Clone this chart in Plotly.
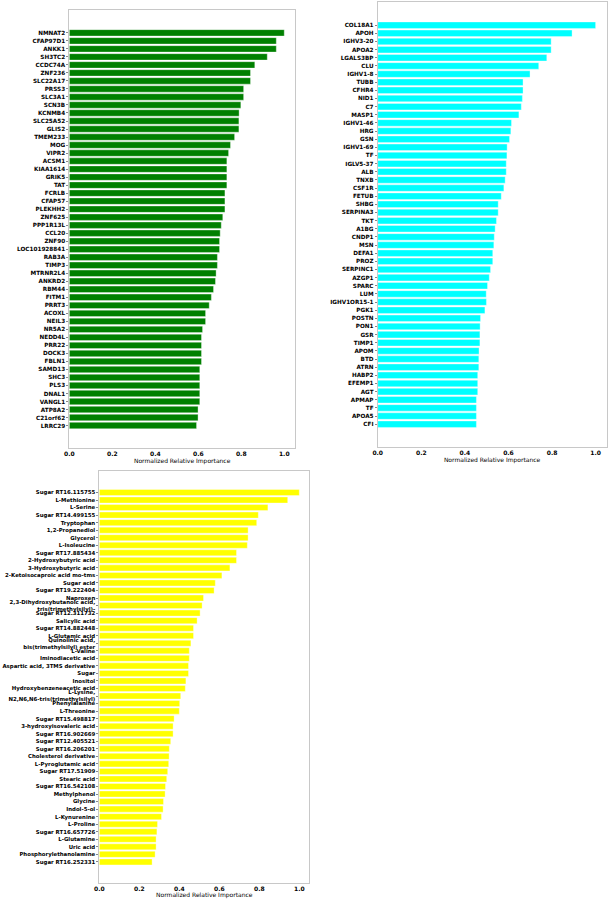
import plotly.graph_objects as go

genes = ["NMNAT2", "CFAP97D1", "ANKK1", "SH3TC2", "CCDC74A", "ZNF236", "SLC22A17", "PRSS3", "SLC3A1", "SCN3B",
         "KCNMB4", "SLC25A52", "GLIS2", "TMEM233", "MOG", "VIPR2", "ACSM1", "KIAA1614", "GRIK5", "TAT",
         "FCRLB", "CFAP57", "PLEKHH2", "ZNF625", "PPP1R13L", "CCL20", "ZNF90", "LOC101928841", "RAB3A", "TIMP3",
         "MTRNR2L4", "ANKRD2", "RBM44", "FITM1", "PRRT3", "ACOXL", "NEIL3", "NR5A2", "NEDD4L", "PRR22",
         "DOCK3", "FBLN1", "SAMD13", "SHC3", "PLS3", "DNAL1", "VANGL1", "ATP8A2", "C21orf62", "LRRC29"]
gene_vals = [1.0, 0.963, 0.963, 0.921, 0.863, 0.843, 0.843, 0.811, 0.811, 0.798,
             0.790, 0.789, 0.789, 0.769, 0.750, 0.741, 0.733, 0.733, 0.733, 0.733,
             0.724, 0.724, 0.724, 0.714, 0.707, 0.702, 0.699, 0.699, 0.689, 0.689,
             0.683, 0.680, 0.671, 0.661, 0.651, 0.634, 0.634, 0.620, 0.615, 0.615,
             0.615, 0.615, 0.607, 0.607, 0.607, 0.607, 0.607, 0.599, 0.599, 0.592]

proteins = ["COL18A1", "APOH", "IGHV3-20", "APOA2", "LGALS3BP", "CLU", "IGHV1-8", "TUBB", "CFHR4", "NID1",
            "C7", "MASP1", "IGHV1-46", "HRG", "GSN", "IGHV1-69", "TF", "IGLV5-37", "ALB", "TNXB",
            "CSF1R", "FETUB", "SHBG", "SERPINA3", "TKT", "A1BG", "CNDP1", "MSN", "DEFA1", "PROZ",
            "SERPINC1", "AZGP1", "SPARC", "LUM", "IGHV1OR15-1", "PGK1", "POSTN", "PON1", "GSR", "TIMP1",
            "APOM", "BTD", "ATRN", "HABP2", "EFEMP1", "AGT", "APMAP", "TF", "APOA5", "CFI"]
protein_vals = [1.0, 0.892, 0.796, 0.796, 0.776, 0.739, 0.699, 0.667, 0.667, 0.664,
                0.659, 0.648, 0.614, 0.611, 0.605, 0.594, 0.593, 0.590, 0.590, 0.585,
                0.579, 0.567, 0.553, 0.553, 0.545, 0.539, 0.535, 0.533, 0.528, 0.528,
                0.518, 0.512, 0.504, 0.498, 0.499, 0.492, 0.472, 0.470, 0.469, 0.469,
                0.465, 0.464, 0.464, 0.459, 0.459, 0.459, 0.453, 0.453, 0.453, 0.453]

metabolites = ["Sugar RT16.115755", "L-Methionine", "L-Serine", "Sugar RT14.499155", "Tryptophan",
               "1,2-Propanediol", "Glycerol", "L-Isoleucine", "Sugar RT17.885434", "2-Hydroxybutyric acid",
               "3-Hydroxybutyric acid", "2-Ketoisocaproic acid mo-tms", "Sugar acid", "Sugar RT19.222404", "Naproxen",
               "2,3-Dihydroxybutanoic acid,<br>tris(trimethylsilyl)-", "Sugar RT12.311732", "Salicylic acid",
               "Sugar RT14.882448", "L-Glutamic acid",
               "Quinolinic acid,<br>bis(trimethylsilyl) ester", "L-Valine", "Iminodiacetic acid",
               "Aspartic acid, 3TMS derivative", "Sugar",
               "Inositol", "Hydroxybenzeneacetic acid", "L-Lysine,<br>N2,N6,N6-tris(trimethylsilyl)",
               "Phenylalanine", "L-Threonine",
               "Sugar RT15.498817", "3-hydroxyisovaleric acid", "Sugar RT16.902669", "Sugar RT12.405521",
               "Sugar RT16.206201",
               "Cholesterol derivative", "L-Pyroglutamic acid", "Sugar RT17.51909", "Stearic acid",
               "Sugar RT16.542108",
               "Methylphenol", "Glycine", "Indol-5-ol", "L-Kynurenine", "L-Proline",
               "Sugar RT16.657726", "L-Glutamine", "Uric acid", "Phosphorylethanolamine", "Sugar RT16.252331"]
metabolite_vals = [1.0, 0.942, 0.843, 0.795, 0.787, 0.744, 0.744, 0.740, 0.686, 0.686,
                   0.653, 0.613, 0.580, 0.574, 0.521, 0.514, 0.504, 0.489, 0.471, 0.471,
                   0.458, 0.450, 0.450, 0.446, 0.446, 0.433, 0.430, 0.407, 0.402, 0.400,
                   0.374, 0.369, 0.369, 0.357, 0.350, 0.349, 0.347, 0.342, 0.337, 0.331,
                   0.329, 0.321, 0.319, 0.311, 0.291, 0.288, 0.284, 0.284, 0.279, 0.264]

x_ticks = [0.0, 0.2, 0.4, 0.6, 0.8, 1.0]
x_title = "Normalized Relative Importance"

W, H = 609, 899
panels = [
    (genes, gene_vals, "#008000", (69.3, 295.0), (10.0, 448.0), 5.7),
    (proteins, protein_vals, "#00ffff", (377.7, 606.5), (2.0, 447.0), 5.7),
    (metabolites, metabolite_vals, "#ffff00", (99.3, 309.3), (471.0, 883.0), 5.4),
]

fig = go.Figure()
layout = dict(width=W, height=H, margin=dict(l=0, r=0, t=0, b=0, autoexpand=False),
              paper_bgcolor="white", plot_bgcolor="white", showlegend=False,
              font=dict(family="DejaVu Sans", color="black", size=6), bargap=0.2)

for i, (labels, vals, color, (x0, x1), (yt, yb), fs) in enumerate(panels):
    n = len(labels)
    idx = list(range(n))
    xa = "x" if i == 0 else f"x{i+1}"
    ya = "y" if i == 0 else f"y{i+1}"
    fig.add_trace(go.Bar(x=vals, y=idx, orientation="h", width=0.8,
                         marker=dict(color=color, line=dict(color="rgba(255,255,255,0.6)", width=0.6)),
                         xaxis=xa, yaxis=ya))
    xkey = "xaxis" if i == 0 else f"xaxis{i+1}"
    ykey = "yaxis" if i == 0 else f"yaxis{i+1}"
    layout[xkey] = dict(domain=[x0 / W, x1 / W], anchor=ya, range=[0, 1.05],
                        tickvals=x_ticks, tickformat=".1f",
                        tickfont=dict(size=6, weight="bold"), automargin=False,
                        showgrid=False, zeroline=False, showline=True, mirror=True,
                        linecolor="#c8c8c8", linewidth=1, ticks="", ticklen=0,
                        title=dict(text=x_title, font=dict(size=6), standoff=1))
    layout[ykey] = dict(domain=[(H - yb) / H, (H - yt) / H], anchor=xa,
                        range=[n - 1 + 2.8, -2.85], automargin=False,
                        tickvals=idx, ticktext=labels,
                        tickfont=dict(size=fs, weight="bold"),
                        showgrid=False, zeroline=False, showline=True, mirror=True,
                        linecolor="#c8c8c8", linewidth=1, ticks="outside", ticklen=2,
                        tickcolor="#888888")

fig.update_layout(**layout)
fig.write_html("out.html", config={"displayModeBar": False},
               post_script="document.body.style.margin='0';document.body.style.overflow='hidden';")
